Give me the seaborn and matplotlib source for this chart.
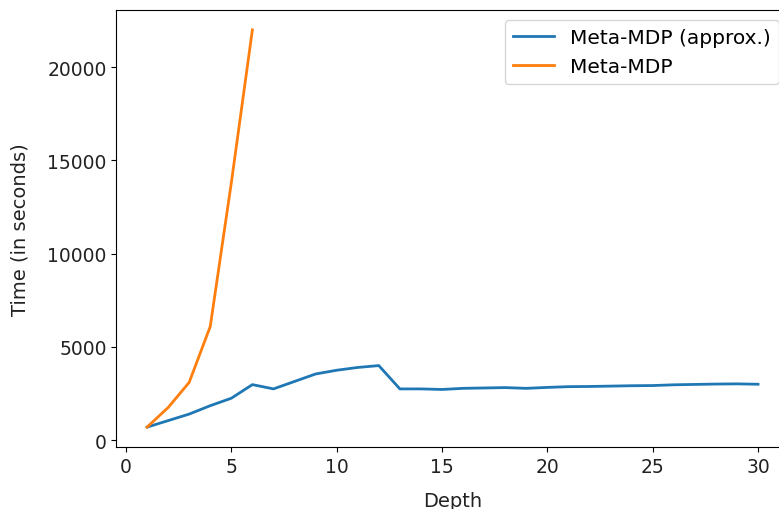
import matplotlib
matplotlib.use("Agg")
import matplotlib.pyplot as plt
import seaborn as sns
import pandas as pd

depth_approx = list(range(1, 31))
time_approx = [700, 1050, 1400, 1850, 2250, 2980, 2750, 3150, 3550, 3750,
               3900, 4000, 2750, 2750, 2720, 2780, 2800, 2820, 2780, 2830,
               2870, 2880, 2900, 2920, 2930, 2970, 2990, 3010, 3020, 3000]
depth_exact = [1, 2, 3, 4, 5, 6]
time_exact = [700, 1750, 3100, 6100, 13800, 22000]

df = pd.concat([
    pd.DataFrame({"Depth": depth_approx, "Time": time_approx, "Method": "Meta-MDP (approx.)"}),
    pd.DataFrame({"Depth": depth_exact, "Time": time_exact, "Method": "Meta-MDP"}),
])

plt.rcParams['font.family'] = ['DejaVu Sans']
W, H = 779, 510
fig = plt.figure(figsize=(W / 100, H / 100), dpi=100)
left, right, top, bottom = 116.5, 788.6, 11, 448
ax = fig.add_axes([left / W, 1 - bottom / H, (right - left) / W, (bottom - top) / H])
sns.lineplot(data=df, x="Depth", y="Time", hue="Method",
             palette=["#1f77b4", "#ff7f0e"], ax=ax, linewidth=2)
ax.set_xlabel("Depth", fontsize=14, color="#222222", labelpad=11)
ax.set_ylabel("Time (in seconds)", fontsize=14, color="#222222", labelpad=13)
ax.tick_params(labelsize=13.5, labelcolor="#222222")
ax.legend(title=None, loc="upper right", fontsize=14.5)
fig.savefig("out.png", dpi=100)
